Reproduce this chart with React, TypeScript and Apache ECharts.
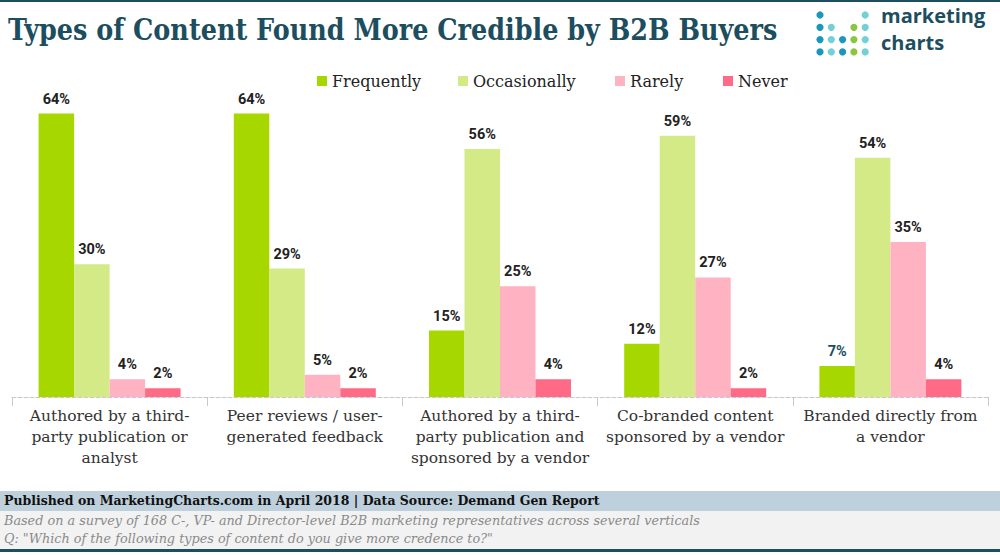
import { useEffect, useRef } from "react";
import * as echarts from "echarts";

const categories = [
  "Authored by a third-\nparty publication or\nanalyst",
  "Peer reviews / user-\ngenerated feedback",
  "Authored by a third-\nparty publication and\nsponsored by a vendor",
  "Co-branded content\nsponsored by a vendor",
  "Branded directly from\na vendor",
];
const seriesNames = ["Frequently", "Occasionally", "Rarely", "Never"];
const frequently = [64, 64, 15, 12, 7];
const occasionally = [30, 29, 56, 59, 54];
const rarely = [4, 5, 25, 27, 35];
const never = [2, 2, 4, 2, 4];

const TEAL = "#1d4e5f";
const SERIF = "'DejaVu Serif', serif";

// where each legend entry starts (px from the left)
const legendLefts = [317, 458, 615, 723];

// logo dot grid: [col, row, color]
const dotBlue = "#1b97bd";
const dotCyan = "#72d0d6";
const dotGreen = "#8cc63f";
const logoDots: [number, number, string][] = [
  [0, 0, dotBlue], [4, 0, dotCyan],
  [0, 1, dotBlue], [1, 1, dotCyan], [3, 1, dotGreen], [4, 1, dotCyan],
  [0, 2, dotBlue], [1, 2, dotCyan], [2, 2, dotBlue], [3, 2, dotGreen], [4, 2, dotCyan],
  [0, 3, dotBlue], [1, 3, dotCyan], [2, 3, dotBlue], [3, 3, dotGreen], [4, 3, dotCyan],
];

function bar(name: string, data: number[], color: string) {
  return {
    name,
    type: "bar",
    data: data.map((v, i) =>
      name === "Frequently" && i === 4
        ? { value: v, label: { color: TEAL } }
        : v
    ),
    barWidth: 35.5,
    barGap: "0%",
    itemStyle: { color },
    label: {
      show: true,
      position: "top",
      distance: 7,
      formatter: "{c}%",
      fontFamily: "Roboto, sans-serif",
      fontWeight: "bold",
      fontSize: 14.5,
      color: "#222",
    },
  };
}

export default function App() {
  const ref = useRef<HTMLDivElement>(null);

  useEffect(() => {
    if (!ref.current) return;
    const chart = echarts.init(ref.current, null, { renderer: "svg" });
    chart.setOption({
      animation: false,
      backgroundColor: "#fff",
      legend: seriesNames.map((name, i) => ({
        top: 73,
        left: legendLefts[i],
        itemWidth: 10,
        itemHeight: 10,
        itemGap: 5,
        padding: 0,
        icon: "rect",
        textStyle: { fontFamily: SERIF, fontSize: 16, color: "#222" },
        data: [name],
      })),
      grid: { left: 12, right: 12, top: 87, bottom: 158 },
      xAxis: {
        type: "category",
        data: categories,
        axisLine: { lineStyle: { color: "#c8c8c8", type: "dashed" } },
        axisTick: { show: true, length: 9, lineStyle: { color: "#c8c8c8" } },
        axisLabel: {
          interval: 0,
          margin: 8,
          fontFamily: SERIF,
          fontSize: 15.5,
          lineHeight: 21,
          color: "#333",
        },
      },
      yAxis: { type: "value", min: 0, max: 70, show: false },
      series: [
        bar("Frequently", frequently, "#a6d800"),
        bar("Occasionally", occasionally, "#d3ea87"),
        bar("Rarely", rarely, "#ffb3c2"),
        bar("Never", never, "#ff6b86"),
      ],
      graphic: [
        { type: "rect", shape: { x: 0, y: 0, width: 1000, height: 2 }, style: { fill: TEAL } },
        {
          type: "text",
          x: 8,
          y: 15,
          scaleX: 0.85,
          style: {
            text: "Types of Content Found More Credible by B2B Buyers",
            fontFamily: SERIF,
            fontWeight: "bold",
            fontSize: 30,
            fill: TEAL,
          },
        },
        ...logoDots.map(([c, r, color]) => ({
          type: "circle",
          shape: { cx: 820 + c * 11.3, cy: 15 + r * 12.3, r: 3.6 },
          style: { fill: color },
        })),
        {
          type: "text",
          left: 881,
          top: 5,
          style: {
            text: "marketing",
            fontFamily: "'Open Sans', sans-serif",
            fontWeight: "bold",
            fontSize: 20,
            fill: TEAL,
          },
        },
        {
          type: "text",
          left: 881,
          top: 32,
          style: {
            text: "charts",
            fontFamily: "'Open Sans', sans-serif",
            fontWeight: "bold",
            fontSize: 20,
            fill: TEAL,
          },
        },
        { type: "rect", shape: { x: 0, y: 491, width: 1000, height: 20 }, style: { fill: "#bed0dc" } },
        { type: "rect", shape: { x: 0, y: 511, width: 1000, height: 38 }, style: { fill: "#f2f2f2" } },
        { type: "rect", shape: { x: 0, y: 549, width: 1000, height: 3 }, style: { fill: TEAL } },
        {
          type: "text",
          left: 4,
          top: 494,
          style: {
            text: "Published on MarketingCharts.com in April 2018 | Data Source: Demand Gen Report",
            fontFamily: SERIF,
            fontWeight: "bold",
            fontSize: 12.5,
            fill: "#111",
          },
        },
        {
          type: "text",
          left: 4,
          top: 514,
          style: {
            text: "Based on a survey of 168 C-, VP- and Director-level B2B marketing representatives across several verticals",
            fontFamily: SERIF,
            fontStyle: "italic",
            fontSize: 12.8,
            fill: "#8a8a8a",
          },
        },
        {
          type: "text",
          left: 4,
          top: 532,
          style: {
            text: "Q: \"Which of the following types of content do you give more credence to?\"",
            fontFamily: SERIF,
            fontStyle: "italic",
            fontSize: 12.8,
            fill: "#8a8a8a",
          },
        },
      ],
    });
    return () => chart.dispose();
  }, []);

  return (
    <div
      ref={ref}
      style={{ position: "fixed", left: 0, top: 0, width: 1000, height: 555 }}
    />
  );
}
